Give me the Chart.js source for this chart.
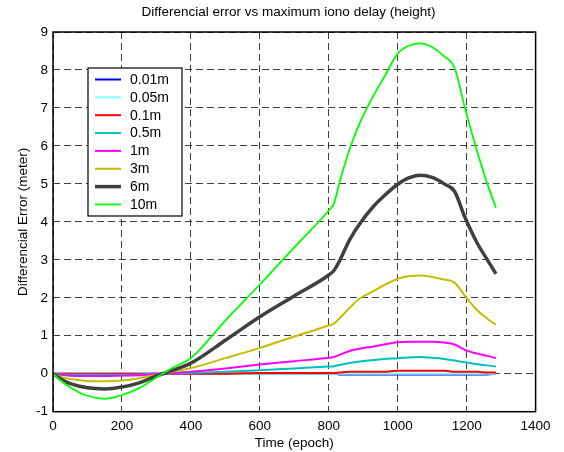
<!DOCTYPE html>
<html>
<head>
<meta charset="utf-8">
<script src="https://cdn.jsdelivr.net/npm/chart.js@4"></script>
<style>
  html, body { margin: 0; padding: 0; background: #fff; }
  #wrap { width: 564px; height: 452px; }
</style>
</head>
<body>
<div id="wrap"><canvas id="chart" width="564" height="452"></canvas></div>
<script>
// epoch positions shared by all curves
const epochs = [0, 25, 50, 100, 150, 200, 250, 300, 350, 400, 500, 600, 700, 800, 815, 830, 860, 890, 930, 960, 1000, 1030, 1065, 1100, 1135, 1165, 1195, 1230, 1260, 1285];

const seriesNames = ['0.01m', '0.05m', '0.1m', '0.5m', '1m', '3m', '6m', '10m'];

const err001 = [0, 0, 0, 0, 0, 0, 0, 0, 0, 0, 0, 0, 0, 0, 0, -0.02, -0.02, -0.02, -0.02, -0.02, -0.02, -0.02, -0.02, -0.02, -0.02, -0.02, -0.02, -0.02, -0.02, 0];
const err005 = [0, 0, 0, 0, 0, 0, 0, 0, 0, 0, 0, 0, 0, 0, 0, 0, 0, 0, 0, 0, 0, 0, 0, 0, 0, 0, 0, 0, 0, 0];
const err01  = [0, 0, 0, 0, 0, 0, 0, 0, 0, 0, 0, 0.02, 0.02, 0.02, 0.02, 0.03, 0.05, 0.05, 0.05, 0.05, 0.08, 0.08, 0.08, 0.08, 0.08, 0.05, 0.05, 0.05, 0.03, 0.03];
const err05  = [0, -0.02, -0.03, -0.03, -0.03, -0.03, -0.02, 0, 0.01, 0.02, 0.05, 0.09, 0.14, 0.19, 0.2, 0.23, 0.28, 0.32, 0.36, 0.39, 0.41, 0.43, 0.44, 0.42, 0.39, 0.35, 0.3, 0.25, 0.22, 0.19];
const err1   = [0, -0.03, -0.05, -0.06, -0.06, -0.05, -0.04, -0.01, 0.02, 0.05, 0.14, 0.24, 0.33, 0.42, 0.44, 0.49, 0.6, 0.66, 0.72, 0.77, 0.83, 0.84, 0.84, 0.84, 0.82, 0.77, 0.63, 0.53, 0.47, 0.41];
const err3   = [0, -0.09, -0.14, -0.19, -0.2, -0.18, -0.12, -0.03, 0.06, 0.15, 0.41, 0.68, 0.98, 1.27, 1.32, 1.45, 1.73, 1.98, 2.18, 2.33, 2.5, 2.57, 2.59, 2.55, 2.48, 2.4, 2.05, 1.68, 1.45, 1.29];
const err6   = [0, -0.15, -0.26, -0.37, -0.4, -0.35, -0.24, -0.06, 0.1, 0.28, 0.88, 1.5, 2.05, 2.6, 2.72, 2.95, 3.52, 3.95, 4.41, 4.68, 4.99, 5.15, 5.23, 5.17, 5.0, 4.8, 4.12, 3.45, 3.0, 2.63];
const err10  = [0, -0.2, -0.36, -0.58, -0.66, -0.56, -0.38, -0.1, 0.17, 0.41, 1.4, 2.35, 3.33, 4.3, 4.48, 5.0, 5.9, 6.6, 7.33, 7.8, 8.43, 8.63, 8.7, 8.6, 8.36, 8.05, 7.0, 5.87, 5.0, 4.37];

const allSeries = [err001, err005, err01, err05, err1, err3, err6, err10];
const lineColors = ['#0000ff', '#80ffff', '#ff0000', '#00bfbf', '#ff00ff', '#bfbf00', '#404040', '#00ff00'];
const lineWidths = [2, 2, 2, 2, 2, 2, 3.5, 1.8];

const FONT = 'Arial, "Liberation Sans", sans-serif';

const datasets = allSeries.map((vals, i) => ({
  label: seriesNames[i],
  data: epochs.map((x, k) => ({ x: x, y: vals[k] })),
  borderColor: lineColors[i],
  backgroundColor: lineColors[i],
  borderWidth: lineWidths[i],
  pointRadius: 0,
  fill: false,
  cubicInterpolationMode: 'monotone',
  borderJoinStyle: 'round',
  order: allSeries.length - i   // later series on top, like matlab
}));

// matlab style box, title and legend
const matlabFrame = {
  id: 'matlabFrame',
  afterDatasetsDraw(chart) {
    const { ctx, chartArea: a } = chart;
    ctx.save();
    ctx.strokeStyle = '#000';
    ctx.lineWidth = 1.5;
    ctx.strokeRect(a.left, a.top, a.right - a.left, a.bottom - a.top);

    // title
    ctx.fillStyle = '#000';
    ctx.font = '13.5px ' + FONT;
    ctx.textAlign = 'center';
    ctx.textBaseline = 'middle';
    ctx.fillText('Differencial error vs maximum iono delay (height)', 288.5, 12);

    // legend box
    const bx = 88, by = 68, bw = 94, bh = 148;
    ctx.fillStyle = '#fff';
    ctx.fillRect(bx, by, bw, bh);
    ctx.lineWidth = 1.2;
    ctx.strokeStyle = '#000';
    ctx.strokeRect(bx, by, bw, bh);
    ctx.font = '14px ' + FONT;
    ctx.textAlign = 'left';
    chart.data.datasets.forEach((ds, i) => {
      const y = 79.5 + i * 17.85;
      ctx.beginPath();
      ctx.strokeStyle = ds.borderColor;
      ctx.lineWidth = ds.borderWidth;
      ctx.moveTo(95, y);
      ctx.lineTo(121, y);
      ctx.stroke();
      ctx.fillStyle = '#000';
      ctx.fillText(ds.label, 130, y + 0.5);
    });
    ctx.restore();
  }
};

new Chart(document.getElementById('chart'), {
  type: 'line',
  data: { datasets: datasets },
  plugins: [matlabFrame],
  options: {
    responsive: false,
    animation: false,
    devicePixelRatio: 1,
    layout: { padding: { top: 32, right: 28.4, left: 0, bottom: 0 } },
    plugins: {
      legend: { display: false },
      title: { display: false },
      tooltip: { enabled: false }
    },
    scales: {
      x: {
        type: 'linear',
        min: 0,
        max: 1400,
        afterFit: s => { s.height = 40.3; },
        ticks: { stepSize: 200, padding: 6, color: '#000', font: { family: FONT, size: 13.5 }, maxRotation: 0, callback: v => v },
        grid: { color: 'rgba(0,0,0,0.75)', lineWidth: 1, drawTicks: false },
        border: { display: true, color: '#000', dash: [7, 4], width: 0 },
        title: { display: true, text: 'Time (epoch)', color: '#000', font: { family: FONT, size: 13.5 }, padding: { top: 0, bottom: 1 } }
      },
      y: {
        min: -1,
        max: 9,
        afterFit: s => { s.width = 53; },
        ticks: { stepSize: 1, padding: 5, color: '#000', font: { family: FONT, size: 13.5 }, callback: v => v },
        grid: { color: 'rgba(0,0,0,0.75)', lineWidth: 1, drawTicks: false },
        border: { display: true, color: '#000', dash: [7, 4], width: 0 },
        title: { display: true, text: 'Differencial Error (meter)', color: '#000', font: { family: FONT, size: 13.5 }, padding: { top: 15, bottom: 0 } }
      }
    }
  }
});
</script>
</body>
</html>
